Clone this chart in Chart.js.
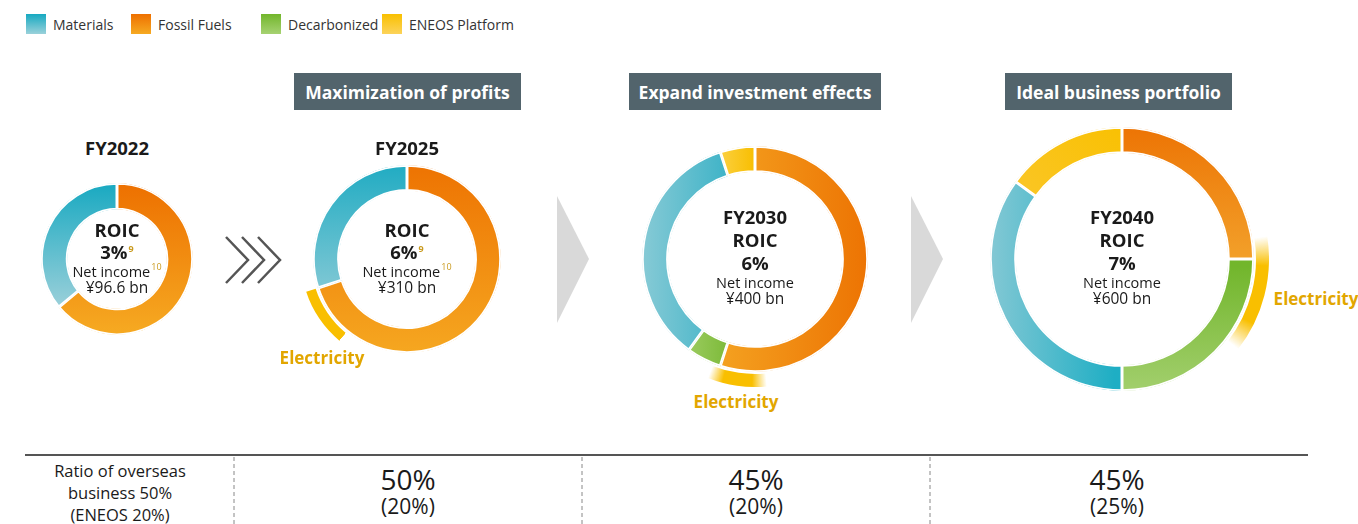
<!DOCTYPE html>
<html>
<head>
<meta charset="utf-8">
<title>ENEOS business portfolio</title>
<script src="https://cdn.jsdelivr.net/npm/chart.js@4.4.0/dist/chart.umd.min.js"></script>
<style>
    body { margin: 0; width: 1358px; height: 524px; overflow: hidden; background: #fff; position: relative;
           font-family: 'Open Sans', 'Noto Sans', sans-serif; color: #1a1a1a; }
    .t { position: absolute; transform: translate(-50%, -50%); white-space: nowrap; text-align: center; line-height: 1; }
    .b { font-weight: 700; }
    canvas { position: absolute; }
    .head { position: absolute; height: 37px; background: #52646c; color: #fff; font-weight: 700; font-size: 17.5px;
            display: flex; align-items: center; justify-content: center; }
    .legend { position: absolute; top: 14px; display: flex; align-items: center; font-size: 14px; color: #333; }
    .legend span.box { width: 20px; height: 20px; margin-right: 7px; display: inline-block; }
    .elec { color: #e2a600; font-weight: 700; font-size: 17px; }
    sup { font-size: 9px; color: #c99a1e; vertical-align: 7px; margin-left: 1px; }
</style>
</head>
<body>

<!-- legend -->
<div class="legend" style="left:26px"><span class="box" style="background:linear-gradient(#16a9c1,#9ad1da)"></span>Materials</div>
<div class="legend" style="left:131px"><span class="box" style="background:linear-gradient(#ee7000,#f6aa22)"></span>Fossil Fuels</div>
<div class="legend" style="left:261px"><span class="box" style="background:linear-gradient(#72b62c,#a6d272)"></span>Decarbonized</div>
<div class="legend" style="left:382px"><span class="box" style="background:linear-gradient(#f9c000,#fcd35a)"></span>ENEOS Platform</div>

<!-- phase headers -->
<div class="head" style="left:294px;top:73px;width:227px">Maximization of profits</div>
<div class="head" style="left:629px;top:73px;width:252px">Expand investment effects</div>
<div class="head" style="left:1005px;top:73px;width:227px">Ideal business portfolio</div>

<!-- arrows -->
<svg width="1358" height="524" style="position:absolute;left:0;top:0">
    <polyline points="226,237 248,260 226,283" fill="none" stroke="#555" stroke-width="2.5"/>
    <polyline points="242,237 264,260 242,283" fill="none" stroke="#555" stroke-width="2.5"/>
    <polyline points="258,237 280,260 258,283" fill="none" stroke="#555" stroke-width="2.5"/>
    <polygon points="557,196 589,259 557,323" fill="#d9d9d9"/>
    <polygon points="911,196 943,259 911,323" fill="#d9d9d9"/>
    <line x1="25" y1="455" x2="1308" y2="455" stroke="#555" stroke-width="2"/>
    <line x1="234" y1="457" x2="234" y2="524" stroke="#888" stroke-width="1" stroke-dasharray="4,3"/>
    <line x1="582" y1="457" x2="582" y2="524" stroke="#888" stroke-width="1" stroke-dasharray="4,3"/>
    <line x1="930" y1="457" x2="930" y2="524" stroke="#888" stroke-width="1" stroke-dasharray="4,3"/>
</svg>

<canvas id="chart2022" width="152" height="152" style="left:41px;top:183px"></canvas>
<canvas id="chart2025" width="212" height="212" style="left:301px;top:153px"></canvas>
<canvas id="chart2030" width="256" height="256" style="left:627px;top:131px"></canvas>
<canvas id="chart2040" width="294" height="294" style="left:975px;top:112px"></canvas>

<script>
// ******** DATA **********
// segments go clockwise from 12 o'clock, values are % of the ring
const fy2022Labels = ['Fossil Fuels', 'Materials'];
const fy2022Values = [64, 36];
const fy2025Labels = ['Fossil Fuels', 'Materials'];
const fy2025Values = [70, 30];
const fy2030Labels = ['Fossil Fuels', 'Decarbonized', 'Materials', 'ENEOS Platform'];
const fy2030Values = [55, 5, 35, 5];
const fy2040Labels = ['Fossil Fuels', 'Decarbonized', 'Materials', 'ENEOS Platform'];
const fy2040Values = [25, 25, 35, 15];

// electricity arc outside the ring: [gap before, electricity, rest]
const fy2025Electricity = [61, 9, 30];
const fy2030Electricity = [48.5, 7.5, 44];
const fy2040Electricity = [22.5, 13, 64.5];

const yearLabels = ['FY2022', 'FY2025', 'FY2030', 'FY2040'];
const roicValues = ['3%', '6%', '6%', '7%'];
const netIncomeValues = ['¥96.6 bn', '¥310 bn', '¥400 bn', '¥600 bn'];
const overseasRatio = ['50%', '45%', '45%'];
const eneosRatio = ['(20%)', '(20%)', '(25%)'];

// gradient per category for each chart: [x0, y0, x1, y1] relative to centre/radius, then colours
const verticalStyle = {
    'Fossil Fuels': [0, -1, 0, 1, '#ed7000', '#f6aa22'],
    'Materials': [0, -1, 0, 0.6, '#18a9c1', '#98cfd9']
};
const style2030 = {
    'Fossil Fuels': [-0.4, 0, 1, 0, '#f5a623', '#ec6f00'],
    'Decarbonized': [-0.6, 0, -0.2, 0, '#a2cf68', '#7cba38'],
    'Materials': [-1, 0, -0.15, 0, '#93ced8', '#38b1c6'],
    'ENEOS Platform': [-0.35, 0, 0, 0, '#fcd552', '#f8be00']
};
const style2040 = {
    'Fossil Fuels': [0, -1, 0, 0.1, '#ec6f00', '#f3a52e'],
    'Decarbonized': [0, 0.05, 0, 1, '#72b62c', '#a8d275'],
    'Materials': [-0.05, 0, -1, 0, '#1eaec4', '#8fcbd6'],
    'ENEOS Platform': [0, -1, -1, 0, '#f9c000', '#fbc93a']
};

const makeGradient = (chart, s) => {
    const a = chart.chartArea;
    if (!a) return s[5];
    const cx = (a.left + a.right) / 2, cy = (a.top + a.bottom) / 2, r = (a.right - a.left) / 2;
    const g = chart.ctx.createLinearGradient(cx + s[0] * r, cy + s[1] * r, cx + s[2] * r, cy + s[3] * r);
    g.addColorStop(0, s[4]);
    g.addColorStop(1, s[5]);
    return g;
}

// electricity arc, fades out at its ends
const makeElectricity = (chart, values, fade) => {
    const a = chart.chartArea;
    if (!a) return '#f9bf00';
    const total = values.reduce((p, c) => p + c, 0);
    const start = -Math.PI / 2 + values[0] / total * 2 * Math.PI;
    const size = values[1] / total;
    const g = chart.ctx.createConicGradient(start, (a.left + a.right) / 2, (a.top + a.bottom) / 2);
    g.addColorStop(0, fade[0] ? 'rgba(249,191,0,0)' : '#f9bf00');
    g.addColorStop(size * 0.25, '#f9bf00');
    g.addColorStop(size * 0.75, '#f9bf00');
    g.addColorStop(size, fade[1] ? 'rgba(249,191,0,0)' : '#f9bf00');
    g.addColorStop(Math.min(size + 0.01, 1), 'rgba(249,191,0,0)');
    return g;
}

const drawPortfolio = (canvasId, labels, values, styles, electricity, fade, cutout) => {
    const datasets = [];
    if (electricity) {
        datasets.push({
            data: electricity,
            weight: 13,
            borderWidth: 0,
            backgroundColor: (c) => c.dataIndex == 1 ? makeElectricity(c.chart, electricity, fade) : 'rgba(0,0,0,0)'
        });
        // empty ring between electricity and the main ring
        datasets.push({ data: [1], weight: 2, borderWidth: 0, backgroundColor: 'rgba(0,0,0,0)' });
    }
    datasets.push({
        data: values,
        weight: 26,
        borderWidth: 1.5,
        borderColor: '#fff',
        borderAlign: 'inner',
        backgroundColor: (c) => makeGradient(c.chart, styles[labels[c.dataIndex]])
    });
    if (electricity && canvasId == 'chart2025') {
        datasets[0].weight = 10;
    }

    return new Chart(document.getElementById(canvasId), {
        type: 'doughnut',
        data: { labels: labels, datasets: datasets },
        options: {
            responsive: false,
            animation: false,
            events: [],
            cutout: cutout,
            layout: { padding: 0 },
            plugins: { legend: { display: false }, tooltip: { enabled: false } }
        }
    });
}

drawPortfolio('chart2022', fy2022Labels, fy2022Values, verticalStyle, null, null, '65%');
drawPortfolio('chart2025', fy2025Labels, fy2025Values, verticalStyle, fy2025Electricity, [false, false], '64.2%');
drawPortfolio('chart2030', fy2030Labels, fy2030Values, style2030, fy2030Electricity, [true, true], '68%');
drawPortfolio('chart2040', fy2040Labels, fy2040Values, style2040, fy2040Electricity, [true, true], '72.1%');

// ******** TEXT **********
const addText = (x, y, html, size, cls) => {
    const d = document.createElement('div');
    d.className = 't ' + (cls || '');
    d.style.left = x + 'px';
    d.style.top = y + 'px';
    d.style.fontSize = size + 'px';
    d.innerHTML = html;
    document.body.appendChild(d);
}

// FY2022 / FY2025: year above the ring
addText(117, 148, yearLabels[0], 18.5, 'b');
addText(407, 148, yearLabels[1], 18.5, 'b');
const centreX = [117, 407];
for (let i = 0; i < 2; i++) {
    addText(centreX[i], 230, 'ROIC', 18.5, 'b');
    addText(centreX[i], 252, roicValues[i] + '<sup>9</sup>', 18.5, 'b');
    addText(centreX[i], 271, 'Net income<sup style="font-weight:400">10</sup>', 14.5);
    addText(centreX[i], 288, netIncomeValues[i], 15.5);
}
// FY2030 / FY2040: year inside the ring
const innerX = [755, 1122];
for (let i = 0; i < 2; i++) {
    addText(innerX[i], 217, yearLabels[i + 2], 18.5, 'b');
    addText(innerX[i], 240, 'ROIC', 18.5, 'b');
    addText(innerX[i], 263, roicValues[i + 2], 18.5, 'b');
    addText(innerX[i], 283, 'Net income', 14.5);
    addText(innerX[i], 299, netIncomeValues[i + 2], 15.5);
}

addText(322, 357, 'Electricity', 17, 'elec');
addText(736, 401, 'Electricity', 17, 'elec');
addText(1316, 298, 'Electricity', 17, 'elec');

// bottom table
addText(120, 471, 'Ratio of overseas', 16.5);
addText(120, 493, 'business 50%', 16.5);
addText(120, 515, '(ENEOS 20%)', 16.5);
const columnX = [408, 756, 1117];
for (let i = 0; i < 3; i++) {
    addText(columnX[i], 479, overseasRatio[i], 28);
    addText(columnX[i], 506, eneosRatio[i], 21);
}
</script>
</body>
</html>
